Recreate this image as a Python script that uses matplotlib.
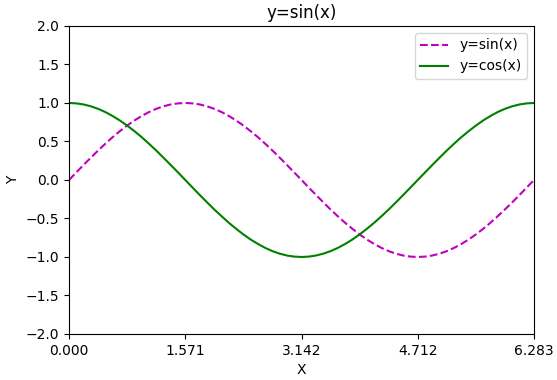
import matplotlib
matplotlib.use('Agg')
import matplotlib.pyplot as plt

# Sample points (x step ~ pi/32)
x_vals = [0.000, 0.098, 0.196, 0.295, 0.393, 0.491, 0.589, 0.687, 0.785,
          0.884, 0.982, 1.080, 1.178, 1.276, 1.374, 1.473, 1.571,
          1.669, 1.767, 1.865, 1.963, 2.062, 2.160, 2.258, 2.356,
          2.454, 2.553, 2.651, 2.749, 2.847, 2.945, 3.043, 3.142,
          3.240, 3.338, 3.436, 3.534, 3.632, 3.731, 3.829, 3.927,
          4.025, 4.123, 4.222, 4.320, 4.418, 4.516, 4.614, 4.712,
          4.811, 4.909, 5.007, 5.105, 5.203, 5.301, 5.400, 5.498,
          5.596, 5.694, 5.792, 5.890, 5.989, 6.087, 6.185, 6.283]
sin_vals = [0.000, 0.098, 0.195, 0.290, 0.383, 0.471, 0.556, 0.634, 0.707,
            0.773, 0.831, 0.882, 0.924, 0.957, 0.981, 0.995, 1.000,
            0.995, 0.981, 0.957, 0.924, 0.882, 0.831, 0.773, 0.707,
            0.634, 0.556, 0.471, 0.383, 0.290, 0.195, 0.098, 0.000,
            -0.098, -0.195, -0.290, -0.383, -0.471, -0.556, -0.634, -0.707,
            -0.773, -0.831, -0.882, -0.924, -0.957, -0.981, -0.995, -1.000,
            -0.995, -0.981, -0.957, -0.924, -0.882, -0.831, -0.773, -0.707,
            -0.634, -0.556, -0.471, -0.383, -0.290, -0.195, -0.098, 0.000]
cos_vals = [1.000, 0.995, 0.981, 0.957, 0.924, 0.882, 0.831, 0.773, 0.707,
            0.634, 0.556, 0.471, 0.383, 0.290, 0.195, 0.098, 0.000,
            -0.098, -0.195, -0.290, -0.383, -0.471, -0.556, -0.634, -0.707,
            -0.773, -0.831, -0.882, -0.924, -0.957, -0.981, -0.995, -1.000,
            -0.995, -0.981, -0.957, -0.924, -0.882, -0.831, -0.773, -0.707,
            -0.634, -0.556, -0.471, -0.383, -0.290, -0.195, -0.098, 0.000,
            0.098, 0.195, 0.290, 0.383, 0.471, 0.556, 0.634, 0.707,
            0.773, 0.831, 0.882, 0.924, 0.957, 0.981, 0.995, 1.000]

x_ticks = [0.0, 1.571, 3.142, 4.712, 6.283]
x_tick_labels = ['0.000', '1.571', '3.142', '4.712', '6.283']
y_ticks = [-2.0, -1.5, -1.0, -0.5, 0.0, 0.5, 1.0, 1.5, 2.0]

fig = plt.figure(figsize=(5.57, 3.8), dpi=100)
ax = fig.add_axes([0.1239, 0.1211, 0.8348, 0.8105])

ax.plot(x_vals, sin_vals, 'm--', label='y=sin(x)')
ax.plot(x_vals, cos_vals, 'g-', label='y=cos(x)')

ax.set_xlim(0, 6.283)
ax.set_ylim(-2, 2)
ax.set_xticks(x_ticks)
ax.set_xticklabels(x_tick_labels)
ax.set_yticks(y_ticks)
ax.set_xlabel('X')
ax.set_ylabel('Y')
ax.set_title('y=sin(x)')
ax.legend(loc='upper right')

fig.savefig('out.png', dpi=100)
